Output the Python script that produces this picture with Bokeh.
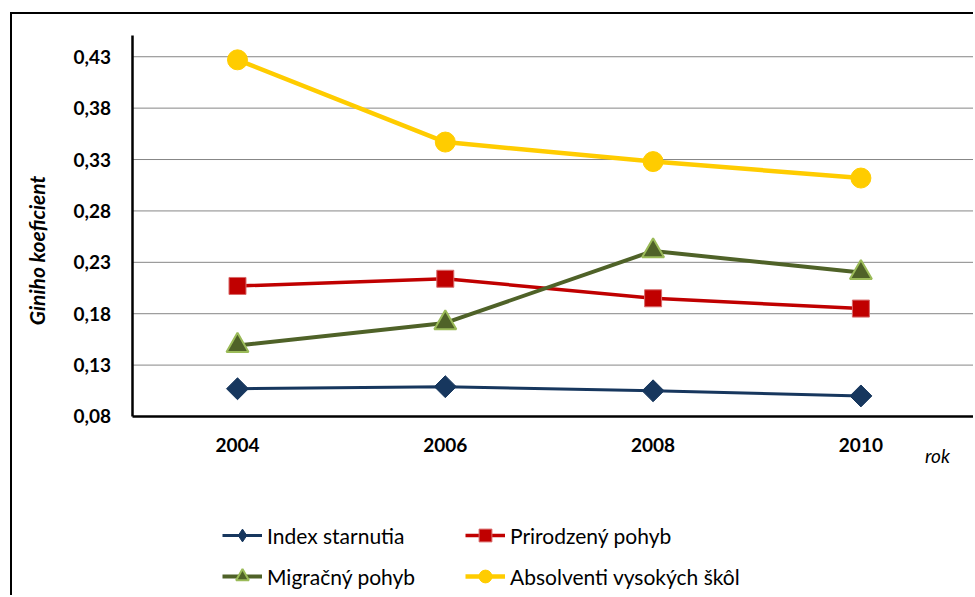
import math
from bokeh.plotting import figure
from bokeh.models import (Range1d, FixedTicker, CustomJSTickFormatter, Legend,
                          LegendItem, Label)
from bokeh.embed import file_html
from bokeh.resources import INLINE

# ---- data ----
years = [2004, 2006, 2008, 2010]
index_starnutia = [0.107, 0.109, 0.105, 0.100]
prirodzeny_pohyb = [0.207, 0.214, 0.195, 0.185]
migracny_pohyb = [0.149, 0.171, 0.241, 0.220]
absolventi_vs = [0.427, 0.347, 0.328, 0.312]
y_ticks = [0.08, 0.13, 0.18, 0.23, 0.28, 0.33, 0.38, 0.43]
series_names = ["Index starnutia", "Prirodzený pohyb", "Migračný pohyb",
                "Absolventi vysokých škôl"]
y_title = "Giniho koeficient"
x_title = "rok"

# ---- layout constants (data-space extents of the drawing area) ----
X_LEFT, X_RIGHT = 2001.8345, 2011.103      # whole canvas
X_AXIS0 = 2002.994                          # where the value axis sits
Y_BOTTOM, Y_TOP = -0.0961, 0.4711           # whole canvas
Y_AXIS0, Y_AXIS1 = 0.08, 0.4506             # value axis extent

FONT = "Lato"
NAVY = "#17375E"
RED = "#C00000"
GREEN = "#4F6228"
GREEN_EDGE = "#9BBB59"
YELLOW = "#FFCC00"

p = figure(width=963, height=583,
           x_range=Range1d(X_LEFT, X_RIGHT), y_range=Range1d(Y_BOTTOM, Y_TOP),
           min_border_left=0, min_border_right=0, min_border_top=0,
           min_border_bottom=0, output_backend="svg", toolbar_location=None,
           background_fill_color="white", border_fill_color="white")
p.outline_line_color = None
p.styles = {"margin-left": "10px", "margin-top": "12px",
            "border-left": "2px solid black", "border-top": "2px solid black"}

# axes (fixed inside the drawing area)
p.xaxis.fixed_location = Y_AXIS0
p.xaxis.bounds = (X_AXIS0, X_RIGHT)
p.xaxis.ticker = FixedTicker(ticks=years)
p.xaxis.major_label_standoff = 22
p.yaxis.fixed_location = X_AXIS0
p.yaxis.bounds = (Y_AXIS0, Y_AXIS1)
p.yaxis.ticker = FixedTicker(ticks=y_ticks)
p.yaxis.formatter = CustomJSTickFormatter(code="return tick.toFixed(2).replace('.', ',');")
p.yaxis.major_label_standoff = 22
for ax in (p.xaxis, p.yaxis):
    ax.axis_line_color = "black"
    ax.axis_line_width = 2.5
    ax.major_tick_line_color = None
    ax.minor_tick_line_color = None
    ax.major_tick_out = 0
    ax.major_tick_in = 0
    ax.minor_tick_out = 0
    ax.major_label_text_font = FONT
    ax.major_label_text_font_size = "19px"
    ax.major_label_text_font_style = "bold"
    ax.major_label_text_color = "black"

p.xgrid.grid_line_color = None
p.ygrid.grid_line_color = None

# horizontal gridlines at the value ticks, from the value axis to the right edge
p.segment(x0=[X_AXIS0] * len(y_ticks), x1=[X_RIGHT] * len(y_ticks),
          y0=y_ticks, y1=y_ticks, line_color="#868686", line_width=1)

# series
l1 = p.line(years, index_starnutia, line_color=NAVY, line_width=3)
# diamond swatch for the legend (sits hidden under the rotated squares)
s1_key = p.scatter(years, index_starnutia, marker="diamond", size=20,
                   fill_color=NAVY, line_color=NAVY)
s1 = p.scatter(years, index_starnutia, marker="square", angle=math.pi / 4,
               size=15.5, fill_color=NAVY, line_color=NAVY)
l2 = p.line(years, prirodzeny_pohyb, line_color=RED, line_width=3.5)
s2 = p.scatter(years, prirodzeny_pohyb, marker="square", size=17,
               fill_color=RED, line_color="#D86A6A", line_width=1)
l3 = p.line(years, migracny_pohyb, line_color=GREEN, line_width=4)
s3 = p.scatter(years, migracny_pohyb, marker="triangle", size=22,
               fill_color=GREEN, line_color=GREEN_EDGE, line_width=2)
l4 = p.line(years, absolventi_vs, line_color=YELLOW, line_width=4.5)
s4 = p.scatter(years, absolventi_vs, marker="circle", size=20,
               fill_color=YELLOW, line_color=YELLOW)

def make_legend(items, x):
    return Legend(items=items, location=(x, 5), orientation="vertical",
                  glyph_width=40, glyph_height=32, spacing=9, padding=0,
                  margin=0, label_standoff=5,
                  label_text_font=FONT, label_text_font_size="21px",
                  label_text_color="black",
                  border_line_color=None, background_fill_alpha=0)

leg1 = make_legend([LegendItem(label=series_names[0], renderers=[l1, s1_key]),
                    LegendItem(label=series_names[2], renderers=[l3, s3])], 210)
leg2 = make_legend([LegendItem(label=series_names[1], renderers=[l2, s2]),
                    LegendItem(label=series_names[3], renderers=[l4, s4])], 453)
p.add_layout(leg1)
p.add_layout(leg2)

p.add_layout(Label(x=2002.061, y=0.2415, text=y_title, angle=math.pi / 2,
                   text_align="center", text_baseline="middle",
                   text_font=FONT, text_font_size="21px",
                   text_font_style="bold italic", text_color="black"))
p.add_layout(Label(x=2010.737, y=0.0421, text=x_title,
                   text_align="center", text_baseline="middle",
                   text_font=FONT, text_font_size="19px",
                   text_font_style="italic", text_color="black"))

open("out.html", "w").write(file_html(p, INLINE))
